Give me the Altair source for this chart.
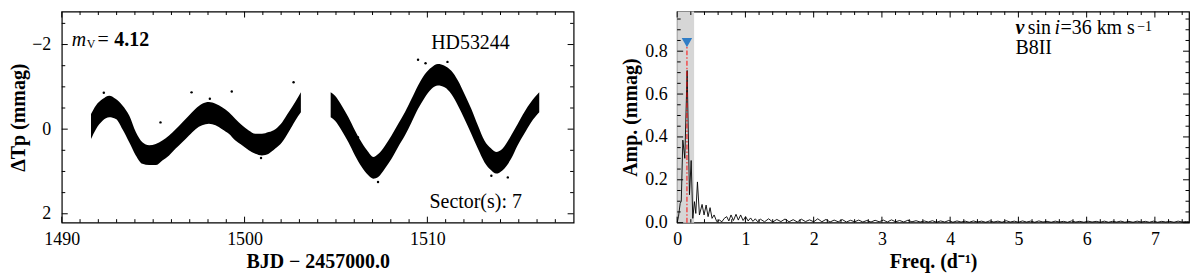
import altair as alt
import pandas as pd

FONT = "Liberation Serif"
W, H = 514, 212

# ---------------- light curve (envelope of the dense band) ----------------
lc_seg = [1] * 33 + [2] * 33
lc_t = [1491.60, 1491.87, 1492.23, 1492.60, 1492.96, 1493.32, 1493.69, 1494.05, 1494.41, 1494.78,
        1495.14, 1495.50, 1495.87, 1496.23, 1496.59, 1496.96, 1497.32, 1497.68, 1498.05, 1498.41,
        1498.77, 1499.14, 1499.50, 1499.86, 1500.23, 1500.59, 1500.95, 1501.32, 1501.68, 1502.05,
        1502.41, 1502.77, 1503.08,
        1504.71, 1504.95, 1505.31, 1505.68, 1506.04, 1506.40, 1506.77, 1507.04, 1507.31, 1507.68,
        1508.04, 1508.40, 1508.77, 1509.13, 1509.49, 1509.86, 1510.22, 1510.58, 1510.94, 1511.31,
        1511.67, 1512.03, 1512.40, 1512.76, 1513.12, 1513.49, 1513.76, 1514.12, 1514.58, 1514.94,
        1515.30, 1515.67, 1516.12]
lc_top = [-0.36, -0.56, -0.71, -0.79, -0.71, -0.56, -0.32, 0.07, 0.31, 0.38,
          0.35, 0.27, 0.15, 0.00, -0.16, -0.32, -0.48, -0.60, -0.64, -0.60,
          -0.52, -0.40, -0.24, -0.09, 0.03, 0.11, 0.11, 0.07, 0.00, -0.16,
          -0.40, -0.64, -0.87,
          -0.87, -0.79, -0.56, -0.28, 0.03, 0.31, 0.54, 0.66, 0.59, 0.39,
          0.15, -0.12, -0.40, -0.71, -1.03, -1.30, -1.46, -1.54, -1.50, -1.38,
          -1.15, -0.83, -0.48, -0.09, 0.27, 0.46, 0.54, 0.46, 0.15, -0.12,
          -0.40, -0.64, -0.87]
lc_bot = [0.23, 0.00, -0.20, -0.28, -0.24, 0.00, 0.31, 0.62, 0.82, 0.85,
          0.85, 0.74, 0.62, 0.46, 0.31, 0.15, 0.00, -0.09, -0.13, -0.09,
          0.00, 0.11, 0.27, 0.38, 0.50, 0.58, 0.62, 0.58, 0.46, 0.31,
          0.07, -0.20, -0.40,
          -0.28, -0.20, 0.03, 0.31, 0.62, 0.89, 1.09, 1.17, 1.13, 0.93,
          0.70, 0.42, 0.15, -0.16, -0.48, -0.75, -0.95, -1.03, -0.99, -0.83,
          -0.56, -0.24, 0.11, 0.46, 0.78, 0.97, 1.05, 0.97, 0.70, 0.38,
          0.11, -0.16, -0.40]

# stray points outside the band
out_t = [1502.68, 1497.10, 1499.30, 1495.40, 1509.49, 1509.90, 1511.10, 1506.20,
         1507.30, 1514.40, 1513.50, 1492.30, 1498.10, 1500.90]
out_v = [-1.11, -0.87, -0.89, -0.16, -1.64, -1.56, -1.59, 0.19,
         1.25, 1.14, 1.10, -0.86, -0.72, 0.68]

# ---------------- amplitude spectrum ----------------
pg_f_low = [0.0, 0.02, 0.044, 0.06, 0.083, 0.112, 0.146, 0.18, 0.205, 0.229, 0.253, 0.273,
            0.297, 0.326, 0.365, 0.394, 0.424, 0.453, 0.482, 0.511, 0.541, 0.58,
            0.62, 0.655, 0.69, 0.726, 0.757, 0.789, 0.825, 0.862, 0.896, 0.930, 0.966,
            1.003, 1.04, 1.076, 1.11, 1.145, 1.18]
pg_a_low = [0.0, 0.03, 0.09, 0.10, 0.385, 0.30, 0.71, 0.13, 0.29, 0.02, 0.098, 0.043,
            0.19, 0.036, 0.085, 0.036, 0.082, 0.028, 0.07, 0.02, 0.036, 0.005,
            0.012, 0.004, 0.02, 0.028, 0.008, 0.036, 0.01, 0.039, 0.012, 0.036, 0.01,
            0.028, 0.008, 0.022, 0.006, 0.018, 0.004]
pg_tail_start, pg_tail_step = 1.22, 0.06
pg_a_tail = [0.016, 0.004, 0.018, 0.003, 0.015, 0.005, 0.017, 0.004, 0.014, 0.003, 0.016, 0.005, 0.013, 0.004,
             0.018, 0.004, 0.015, 0.003, 0.012, 0.004, 0.014, 0.003, 0.011, 0.004, 0.012, 0.003, 0.010,
             0.003, 0.011, 0.004, 0.012, 0.003, 0.013, 0.004, 0.010, 0.003, 0.011, 0.004, 0.009, 0.003,
             0.008, 0.003, 0.009, 0.002, 0.008, 0.003, 0.010, 0.002, 0.008, 0.003, 0.007, 0.002, 0.008,
             0.003, 0.007, 0.002, 0.008, 0.003, 0.007, 0.002, 0.009, 0.003, 0.007, 0.002, 0.008, 0.003,
             0.007, 0.002, 0.008, 0.003, 0.006, 0.002, 0.007, 0.003, 0.006, 0.002, 0.008, 0.003, 0.006,
             0.002, 0.007, 0.003, 0.006, 0.002, 0.007, 0.002, 0.006, 0.003, 0.007, 0.002, 0.006, 0.002,
             0.007, 0.003, 0.006, 0.002, 0.007, 0.002, 0.006, 0.003, 0.006, 0.002, 0.007, 0.003, 0.005]
pg_f_end, pg_a_end = 7.5, 0.004

peak_f = 0.143
peak_marker_a = 0.84
peak_line_top = 0.83
shade_lo, shade_hi = 0.0, 0.248

# ticks
lc_xmaj = [1490, 1500, 1510]
lc_xmin = [v for v in range(1491, 1518) if v not in lc_xmaj]
lc_ymaj = [-2, 0, 2]
lc_ymin = [-2.5, -1.5, -1.0, -0.5, 0.5, 1.0, 1.5]
pg_xmaj = [0, 1, 2, 3, 4, 5, 6, 7]
pg_xmin = [round(i * 0.2, 2) for i in range(1, 38) if i % 5 != 0]
pg_ymaj = [0.0, 0.2, 0.4, 0.6, 0.8]
pg_ymin = [round(i * 0.05, 2) for i in range(1, 20) if i % 4 != 0]

# ---------------- build tables ----------------
lc_df = pd.DataFrame({"seg": lc_seg, "t": lc_t, "top": lc_top, "bot": lc_bot})
out_df = pd.DataFrame({"t": out_t, "v": out_v})
pg_f = pg_f_low + [round(pg_tail_start + i * pg_tail_step, 3) for i in range(len(pg_a_tail))] + [pg_f_end]
pg_a = pg_a_low + pg_a_tail + [pg_a_end]
pg_df = pd.DataFrame({"f": pg_f, "a": pg_a})

AX = dict(grid=False, ticks=False, tickSize=0, domain=False, labelFont=FONT, labelFontSize=18,
          labelColor="black", titleFont=FONT, titleFontSize=20, titleFontWeight="bold",
          titleColor="black", labelFlush=False)

xs_lc = alt.Scale(domain=[1490, 1518], nice=False, zero=False)
ys_lc = alt.Scale(domain=[-2.78, 2.21], reverse=True, nice=False, zero=False)
xs_pg = alt.Scale(domain=[0, 7.5], nice=False, zero=False)
ys_pg = alt.Scale(domain=[0, 0.985], nice=False, zero=False)

ax_lc_x = alt.Axis(values=lc_xmaj, format="d", title="BJD − 2457000.0", labelPadding=8, titlePadding=3, **AX)
ax_lc_y = alt.Axis(values=lc_ymaj, format="d", title="ΔTp (mmag)", labelPadding=11, titlePadding=3, **AX)
ax_pg_x = alt.Axis(values=pg_xmaj, format="d", title="Freq. (d⁻¹)", labelPadding=8, titlePadding=3, **AX)
ax_pg_y = alt.Axis(values=pg_ymaj, format=".1f", title="Amp. (mmag)", labelPadding=10, titlePadding=4, **AX)


def ticks(xmaj, xmin, ymaj, ymin, xs, ys, axx, axy):
    layers = []
    for vals, L in ((xmaj, 6), (xmin, 3.5)):
        base = alt.Chart(pd.DataFrame({"v": vals})).mark_rule(color="black", strokeWidth=1)
        layers.append(base.encode(x=alt.X("v:Q", scale=xs, axis=axx), y=alt.value(0), y2=alt.value(L)))
        layers.append(base.encode(x=alt.X("v:Q", scale=xs, axis=axx), y=alt.value(H), y2=alt.value(H - L)))
    for vals, L in ((ymaj, 6), (ymin, 3.5)):
        base = alt.Chart(pd.DataFrame({"v": vals})).mark_rule(color="black", strokeWidth=1)
        layers.append(base.encode(y=alt.Y("v:Q", scale=ys, axis=axy), x=alt.value(0), x2=alt.value(L)))
        layers.append(base.encode(y=alt.Y("v:Q", scale=ys, axis=axy), x=alt.value(W), x2=alt.value(W - L)))
    return layers


def label(txt, x, y, size=20, style="normal", weight="normal"):
    return alt.Chart(pd.DataFrame({"s": [txt]})).mark_text(
        font=FONT, fontSize=size, fontStyle=style, fontWeight=weight, color="black",
        align="left", baseline="alphabetic"
    ).encode(text="s:N", x=alt.value(x), y=alt.value(y))


# ---------------- left panel ----------------
band = alt.Chart(lc_df).mark_area(color="black", interpolate="monotone").encode(
    x=alt.X("t:Q", scale=xs_lc, axis=ax_lc_x),
    y=alt.Y("top:Q", scale=ys_lc, axis=ax_lc_y),
    y2="bot:Q",
    detail="seg:N",
)
pts = alt.Chart(out_df).mark_circle(color="black", size=6, opacity=1).encode(
    x=alt.X("t:Q", scale=xs_lc, axis=ax_lc_x), y=alt.Y("v:Q", scale=ys_lc, axis=ax_lc_y))

left = alt.layer(
    band, pts,
    *ticks(lc_xmaj, lc_xmin, lc_ymaj, lc_ymin, xs_lc, ys_lc, ax_lc_x, ax_lc_y),
    label("m", 10, 34.3, style="italic"),
    label("V", 25, 37, size=12),
    label("=", 36, 34.3),
    label("4.12", 52.7, 34.3, weight="bold"),
    label("HD53244", 371, 37.7),
    label("Sector(s): 7", 369.3, 197.7),
).properties(width=W, height=H)

# ---------------- right panel ----------------
shade = alt.Chart(pd.DataFrame({"x1": [shade_lo], "x2": [shade_hi]})).mark_rect(color="#d6d6d6").encode(
    x=alt.X("x1:Q", scale=xs_pg, axis=ax_pg_x), x2="x2:Q", y=alt.value(0), y2=alt.value(H))
spec = alt.Chart(pg_df).mark_line(color="black", strokeWidth=0.9).encode(
    x=alt.X("f:Q", scale=xs_pg, axis=ax_pg_x),
    y=alt.Y("a:Q", scale=ys_pg, axis=ax_pg_y),
)
peak_df = pd.DataFrame({"f": [peak_f], "a0": [0.0], "a1": [peak_line_top], "am": [peak_marker_a]})
vline = alt.Chart(peak_df).mark_rule(color="red", opacity=0.75, strokeWidth=1.3,
                                     strokeDash=[5, 2, 1.5, 2]).encode(
    x=alt.X("f:Q", scale=xs_pg, axis=ax_pg_x), y=alt.Y("a0:Q", scale=ys_pg, axis=ax_pg_y), y2="a1:Q")
tri = alt.Chart(peak_df).mark_point(shape="triangle-down", filled=True, size=110,
                                    color="#2f7dc6", opacity=1).encode(
    x=alt.X("f:Q", scale=xs_pg, axis=ax_pg_x), y=alt.Y("am:Q", scale=ys_pg, axis=ax_pg_y))

right = alt.layer(
    shade, spec, vline, tri,
    *ticks(pg_xmaj, pg_xmin, pg_ymaj, pg_ymin, xs_pg, ys_pg, ax_pg_x, ax_pg_y),
    label("v", 339.7, 22.7, style="italic", weight="bold"),
    label("sin", 352, 22.7),
    label("i", 379, 22.7, style="italic"),
    label("=36 km s", 385, 22.7),
    label("−1", 462, 19.3, size=14),
    label("B8II", 339.7, 42.7),
).properties(width=W, height=H)

chart = alt.hconcat(left, right, spacing=104, bounds="flush").properties(
    padding={"left": 0, "top": 1, "right": 0, "bottom": 0}
).configure_view(stroke="black", strokeWidth=1.2)

chart.save("out.html", embed_options={"renderer": "svg", "actions": False})
